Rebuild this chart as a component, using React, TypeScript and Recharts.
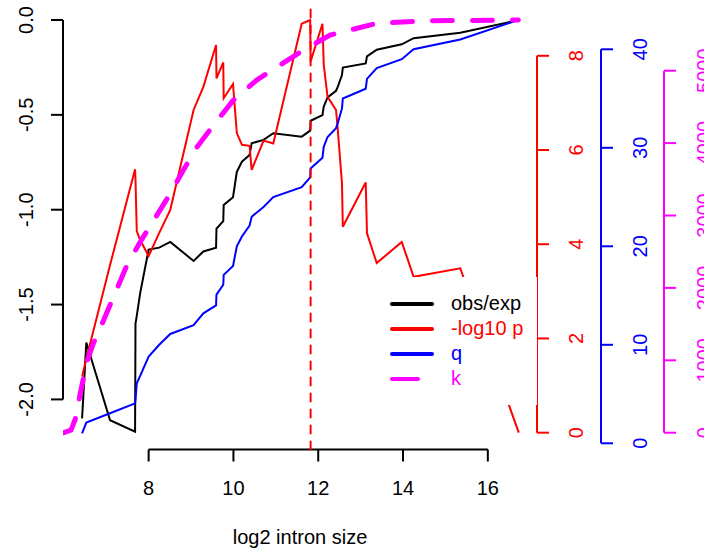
import React from "react";
import { ComposedChart, Line, XAxis, YAxis, ReferenceLine } from "recharts";

const WIDTH = 704;
const HEIGHT = 557;
const FONT = '"Liberation Sans", Arial, Helvetica, sans-serif';

// intron size bins (log2), shared by obs/exp, -log10 p and q
const LOG2_SIZE = [
  6.43, 6.53, 7.09, 7.68, 7.69, 7.72, 7.8, 8.0, 8.25, 8.51,
  9.06, 9.29, 9.59, 9.6, 9.76, 9.77, 9.99, 10.08, 10.2, 10.38,
  10.43, 10.71, 10.94, 11.61, 11.81, 11.82, 12.1, 12.13, 12.22, 12.42,
  12.46, 12.56, 12.58, 13.12, 13.15, 13.38, 13.97, 14.25, 15.35, 16.73,
];
const OBS_EXP = [
  -2.1, -1.7, -2.11, -2.17, -1.6, -1.56, -1.44, -1.21, -1.2, -1.17,
  -1.27, -1.22, -1.2, -1.1, -1.06, -0.975, -0.934, -0.8, -0.747, -0.711,
  -0.65, -0.632, -0.597, -0.615, -0.583, -0.531, -0.501, -0.457, -0.408, -0.373,
  -0.352, -0.29, -0.251, -0.229, -0.192, -0.157, -0.128, -0.096, -0.067, 0,
];
const NEG_LOG10_P = [
  1.19, 1.57, 3.56, 5.59, 5.36, 4.28, 4.09, 3.75, 4.24, 4.73,
  6.85, 7.34, 8.23, 7.52, 7.86, 7.1, 7.4, 6.36, 6.11, 6.09,
  5.58, 6.2, 6.14, 8.68, 8.76, 7.88, 8.68, 7.81, 7.13, 6.85,
  6.45, 5.29, 4.37, 5.31, 4.23, 3.6, 4.05, 3.31, 3.49, 0,
];
const Q_VALUES = [
  1.0, 2.1, 3.05, 4.05, 4.4, 6.1, 6.85, 8.8, 10.0, 11.1,
  12.0, 13.2, 14.0, 15.1, 16.1, 17.1, 18.0, 20.0, 21.0, 22.1,
  23.0, 24.0, 25.0, 26.0, 27.0, 27.9, 29.0, 30.1, 31.1, 32.0,
  32.5, 34.0, 35.0, 36.0, 37.0, 38.1, 39.0, 40.0, 41.0, 43.0,
];

// k comes on its own, finer grid
const K_LOG2_SIZE = [
  6.0, 6.17, 6.27, 6.38, 6.54, 6.7, 6.86, 7.17, 7.49, 7.8, 8.11, 8.51,
  8.82, 9.14, 9.57, 10.0, 10.55, 11.1, 11.65, 12.28, 13.38, 14.63, 16.72,
];
const K_VALUES = [
  0, 37, 189, 521, 976, 1239, 1446, 1874, 2316, 2634, 2924, 3303,
  3628, 3946, 4277, 4594, 4871, 5078, 5285, 5492, 5654, 5690, 5699,
];

const CUTOFF = 11.82;

const X_TICKS = [8, 10, 12, 14, 16];
const OBS_TICKS = [0, -0.5, -1, -1.5, -2];
const P_TICKS = [0, 2, 4, 6, 8];
const Q_TICKS = [0, 10, 20, 30, 40];
const K_TICKS = [0, 1000, 2000, 3000, 4000, 5000];

const LEGEND_LABELS = ["obs/exp", "-log10 p", "q", "k"];
const COLORS = ["#000000", "#FF0000", "#0000FF", "#FF00FF"];

// R-style ranges: 4% padding round each series
const X_DOMAIN = [5.98, 17.16];
const OBS_DOMAIN = [-2.264, 0.087];
const P_DOMAIN = [-0.357, 9.11];
const Q_DOMAIN = [-0.63, 44.65];
const K_DOMAIN = [-232, 5928];

// recharts stacks right axes by id order, so ids are named to keep p, q, k outward
const P_ID = "right1";
const Q_ID = "right2";
const K_ID = "right3";

const LEFT_W = 63;
const P_W = 64;
const Q_W = 63;
const K_W = 40;
const TOP = 3.5;
const X_AXIS_H = 107.5;

const data = LOG2_SIZE.map((x, i) => ({
  x,
  obs: OBS_EXP[i],
  p: NEG_LOG10_P[i],
  q: Q_VALUES[i],
}));
const kData = K_LOG2_SIZE.map((x, i) => ({ x, k: K_VALUES[i] }));

function rotatedTick(color: string, fmt: (v: number) => string) {
  return (props: any) => {
    const { x, y, payload } = props;
    return (
      <text
        x={x}
        y={y}
        transform={`rotate(-90 ${x} ${y})`}
        textAnchor="middle"
        fill={color}
        fontSize={20}
        fontFamily={FONT}
      >
        {fmt(payload.value)}
      </text>
    );
  };
}

// R only draws the axis line between the outer ticks; dx moves it out to the stacked right axes
function axisSegment(color: string, dx: number) {
  return (props: any) => (
    <line
      x1={props.x1 + dx}
      y1={props.y1}
      x2={props.x2 + dx}
      y2={props.y2}
      stroke={color}
      strokeWidth={2}
    />
  );
}

const intLabel = (v: number) => String(v);

export default function App() {
  const lastTick = (t: number[]) => t[t.length - 1];
  return (
    <div
      style={{
        position: "absolute",
        left: 0,
        top: 0,
        width: WIDTH,
        height: HEIGHT,
        background: "#fff",
        fontFamily: FONT,
      }}
    >
      <ComposedChart
        width={WIDTH}
        height={HEIGHT}
        data={data}
        margin={{ top: TOP, right: 0, bottom: 0, left: 0 }}
      >
        <XAxis
          dataKey="x"
          type="number"
          domain={X_DOMAIN}
          ticks={X_TICKS}
          interval={0}
          allowDataOverflow
          height={X_AXIS_H}
          axisLine={false}
          tickLine={{ stroke: "#000", strokeWidth: 2 }}
          tickSize={12}
          tickMargin={19}
          tick={{ fill: "#000", fontSize: 20, fontFamily: FONT }}
          label={{
            value: "log2 intron size",
            position: "insideBottom",
            offset: 13,
            fill: "#000",
            fontSize: 20,
            fontFamily: FONT,
          }}
        />
        <YAxis
          yAxisId="obs"
          orientation="left"
          type="number"
          width={LEFT_W}
          domain={OBS_DOMAIN}
          ticks={OBS_TICKS}
          interval={0}
          allowDataOverflow
          axisLine={false}
          tickLine={{ stroke: "#000", strokeWidth: 2 }}
          tickSize={12}
          tickMargin={18}
          tick={rotatedTick("#000", (v) => v.toFixed(1))}
        />
        <YAxis
          yAxisId={P_ID}
          orientation="right"
          type="number"
          width={P_W}
          domain={P_DOMAIN}
          ticks={P_TICKS}
          interval={0}
          allowDataOverflow
          axisLine={false}
          tickLine={{ stroke: COLORS[1], strokeWidth: 2 }}
          tickSize={12}
          tickMargin={34}
          tick={rotatedTick(COLORS[1], intLabel)}
        />
        <YAxis
          yAxisId={Q_ID}
          orientation="right"
          type="number"
          width={Q_W}
          domain={Q_DOMAIN}
          ticks={Q_TICKS}
          interval={0}
          allowDataOverflow
          axisLine={false}
          tickLine={{ stroke: COLORS[2], strokeWidth: 2 }}
          tickSize={12}
          tickMargin={34}
          tick={rotatedTick(COLORS[2], intLabel)}
        />
        <YAxis
          yAxisId={K_ID}
          orientation="right"
          type="number"
          width={K_W}
          domain={K_DOMAIN}
          ticks={K_TICKS}
          interval={0}
          allowDataOverflow
          axisLine={false}
          tickLine={{ stroke: COLORS[3], strokeWidth: 2 }}
          tickSize={12}
          tickMargin={35}
          tick={rotatedTick(COLORS[3], intLabel)}
        />

        {/* axis lines */}
        <ReferenceLine
          yAxisId="obs"
          ifOverflow="visible"
          segment={[
            { x: X_TICKS[0], y: OBS_DOMAIN[0] },
            { x: lastTick(X_TICKS), y: OBS_DOMAIN[0] },
          ]}
          shape={axisSegment("#000", 0)}
        />
        <ReferenceLine
          yAxisId="obs"
          ifOverflow="visible"
          segment={[
            { x: X_DOMAIN[0], y: OBS_TICKS[0] },
            { x: X_DOMAIN[0], y: lastTick(OBS_TICKS) },
          ]}
          shape={axisSegment("#000", 0)}
        />
        <ReferenceLine
          yAxisId={P_ID}
          ifOverflow="visible"
          segment={[
            { x: X_DOMAIN[1], y: P_TICKS[0] },
            { x: X_DOMAIN[1], y: lastTick(P_TICKS) },
          ]}
          shape={axisSegment(COLORS[1], 0)}
        />
        <ReferenceLine
          yAxisId={Q_ID}
          ifOverflow="visible"
          segment={[
            { x: X_DOMAIN[1], y: Q_TICKS[0] },
            { x: X_DOMAIN[1], y: lastTick(Q_TICKS) },
          ]}
          shape={axisSegment(COLORS[2], P_W)}
        />
        <ReferenceLine
          yAxisId={K_ID}
          ifOverflow="visible"
          segment={[
            { x: X_DOMAIN[1], y: K_TICKS[0] },
            { x: X_DOMAIN[1], y: lastTick(K_TICKS) },
          ]}
          shape={axisSegment(COLORS[3], P_W + Q_W)}
        />

        <Line
          yAxisId="obs"
          dataKey="obs"
          type="linear"
          stroke={COLORS[0]}
          strokeWidth={2}
          dot={false}
          activeDot={false}
          isAnimationActive={false}
        />
        <Line
          yAxisId={P_ID}
          dataKey="p"
          type="linear"
          stroke={COLORS[1]}
          strokeWidth={2}
          dot={false}
          activeDot={false}
          isAnimationActive={false}
        />
        <Line
          yAxisId={Q_ID}
          dataKey="q"
          type="linear"
          stroke={COLORS[2]}
          strokeWidth={2}
          dot={false}
          activeDot={false}
          isAnimationActive={false}
        />
        <Line
          yAxisId={K_ID}
          data={kData}
          dataKey="k"
          type="linear"
          stroke={COLORS[3]}
          strokeWidth={5}
          strokeDasharray="20 20"
          strokeLinecap="round"
          dot={false}
          activeDot={false}
          isAnimationActive={false}
        />
        <ReferenceLine
          yAxisId="obs"
          x={CUTOFF}
          stroke={COLORS[1]}
          strokeWidth={2}
          strokeDasharray="8 8"
          strokeLinecap="round"
        />
      </ComposedChart>

      {/* legend box, white background hides what runs under it, as in R */}
      <div
        style={{
          position: "absolute",
          left: 383,
          top: 277,
          width: 154,
          height: 128,
          background: "#fff",
        }}
      >
        <svg width={154} height={128}>
          {LEGEND_LABELS.map((label, i) => {
            const y = 27 + i * 25;
            return (
              <g key={label}>
                <line
                  x1={9}
                  y1={y}
                  x2={i === 3 ? 35 : 49}
                  y2={y}
                  stroke={COLORS[i]}
                  strokeWidth={4}
                  strokeLinecap="round"
                />
                <text
                  x={68}
                  y={y + 6}
                  fill={COLORS[i]}
                  fontSize={20}
                  fontFamily={FONT}
                >
                  {label}
                </text>
              </g>
            );
          })}
        </svg>
      </div>
    </div>
  );
}
